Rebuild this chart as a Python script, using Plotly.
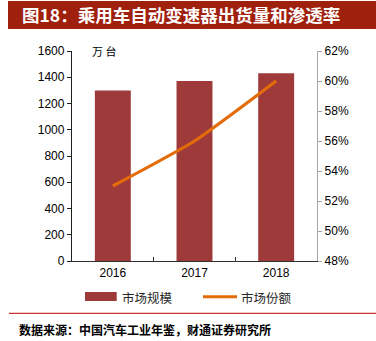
import plotly.graph_objects as go

years = ["2016", "2017", "2018"]
market_size = [1300, 1372, 1430]          # 万台
market_share = [0.530, 0.560, 0.600]      # 渗透率

title_text = "图18：乘用车自动变速器出货量和渗透率"
source_text = "数据来源：中国汽车工业年鉴，财通证券研究所"
unit_text = "万 台"
legend_bar = "市场规模"
legend_line = "市场份额"

W, H = 376, 341
L, R, T, B = 72, 59, 51, 80
pw, ph = W - L - R, H - T - B

def px(x):
    return (x - L) / pw

def py(y):
    return (H - B - y) / ph

BAR_C = "#9E3A3A"
LINE_C = "#E36C09"
BANNER_C = "#A0200E"
FONT = "Liberation Sans, Arial, sans-serif"
CJK = "Noto Sans CJK SC, sans-serif"

fig = go.Figure()
fig.add_trace(go.Bar(x=years, y=market_size, marker=dict(color=BAR_C, line=dict(width=0)),
                     width=0.44, name=legend_bar, yaxis="y"))
fig.add_trace(go.Scatter(x=years, y=market_share, mode="lines", line=dict(color=LINE_C, width=3.2,
                         shape="spline", smoothing=0.5), name=legend_line, yaxis="y2"))

fig.update_layout(
    width=W, height=H, margin=dict(l=L, r=R, t=T, b=B),
    paper_bgcolor="white", plot_bgcolor="white", showlegend=False,
    font=dict(family=FONT, size=12, color="#000000"),
    xaxis=dict(type="category", range=[-0.5, 2.5], showgrid=False, showline=True,
               linecolor="#303030", linewidth=1.3, ticks="inside", tickson="boundaries",
               ticklen=4, tickcolor="#303030", tickfont=dict(size=12, family=FONT)),
    yaxis=dict(range=[0, 1600], dtick=200, showgrid=False, showline=True, linecolor="#202020",
               linewidth=1.3, ticks="outside", ticklen=4, tickcolor="#202020",
               tickfont=dict(size=12, family=FONT), zeroline=False),
    yaxis2=dict(range=[0.48, 0.62], dtick=0.02, tickformat=".0%", overlaying="y", side="right",
                showgrid=False, showline=True, linecolor="#A6A6A6", linewidth=1.3,
                ticks="outside", ticklen=4, tickcolor="#A6A6A6",
                tickfont=dict(size=12, family=FONT), zeroline=False),
)

shapes = [
    # title banner
    dict(type="rect", xref="paper", yref="paper", x0=px(8), x1=px(377), y0=py(29), y1=py(1),
         fillcolor=BANNER_C, line=dict(width=0), layer="above"),
    # footer rule
    dict(type="line", xref="paper", yref="paper", x0=px(9), x1=px(377), y0=py(313.3), y1=py(313.3),
         line=dict(color="#C00000", width=1)),
    # legend swatches
    dict(type="rect", xref="paper", yref="paper", x0=px(85), x1=px(116.7), y0=py(301), y1=py(292),
         fillcolor=BAR_C, line=dict(width=0)),
    dict(type="line", xref="paper", yref="paper", x0=px(203), x1=px(237), y0=py(296.7), y1=py(296.7),
         line=dict(color=LINE_C, width=3)),
]
fig.update_layout(shapes=shapes)

annotations = [
    dict(text=title_text, xref="paper", yref="paper", x=px(20), y=py(15), xanchor="left",
         yanchor="middle", showarrow=False, font=dict(family=CJK, size=17.5, color="white", weight="bold")),
    dict(text=unit_text, xref="paper", yref="paper", x=px(104), y=py(51), xanchor="center",
         yanchor="middle", showarrow=False, font=dict(family=CJK, size=11, color="#000000")),
    dict(text=legend_bar, xref="paper", yref="paper", x=px(120), y=py(297), xanchor="left",
         yanchor="middle", showarrow=False, font=dict(family=CJK, size=12.5, color="#262626")),
    dict(text=legend_line, xref="paper", yref="paper", x=px(239), y=py(297), xanchor="left",
         yanchor="middle", showarrow=False, font=dict(family=CJK, size=12.5, color="#262626")),
    dict(text=source_text, xref="paper", yref="paper", x=px(17), y=py(329), xanchor="left",
         yanchor="middle", showarrow=False, font=dict(family=CJK, size=12, color="#000000", weight="bold")),
]
fig.update_layout(annotations=annotations)

fig.write_html("out.html")
